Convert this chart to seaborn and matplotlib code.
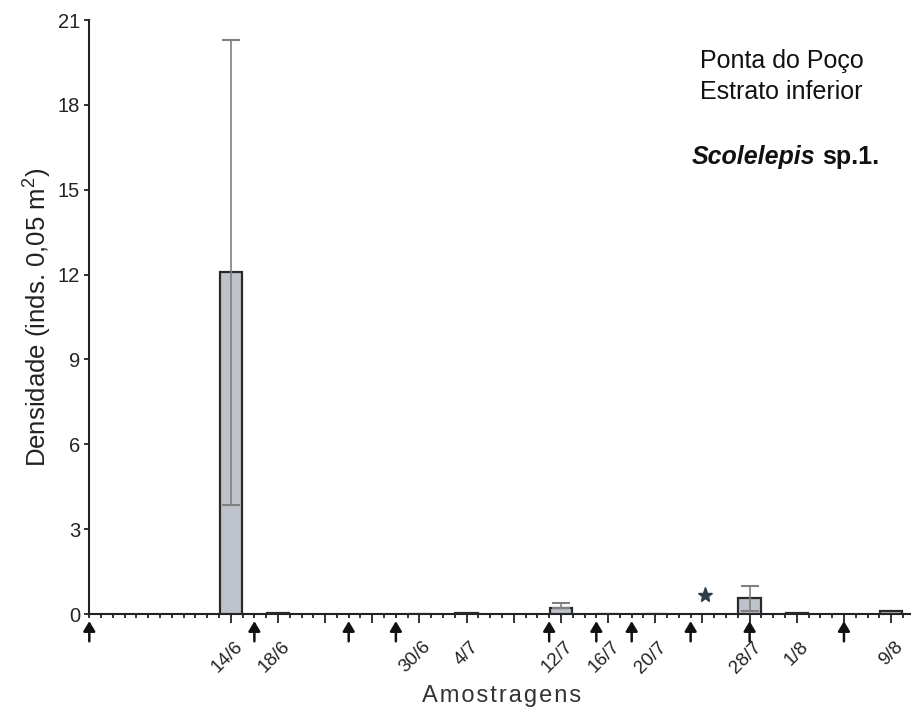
import matplotlib
matplotlib.use("Agg")
import matplotlib.pyplot as plt
import matplotlib.transforms as mtransforms
from matplotlib.ticker import FixedLocator, FixedFormatter
import seaborn as sns
import pandas as pd

# ---- data (days counted from 2/6) ----
sample_labels = ['14/6', '18/6', '30/6', '4/7', '12/7', '16/7', '20/7', '28/7', '1/8', '9/8']
sample_days = [12, 16, 28, 32, 40, 44, 48, 56, 60, 68]
density = [12.08, 0.03, 0.0, 0.05, 0.22, 0.015, 0.015, 0.55, 0.04, 0.1]
err_low = [3.85, 0.03, 0.0, 0.05, 0.22, 0.015, 0.015, 0.12, 0.04, 0.1]
err_high = [20.28, 0.03, 0.0, 0.05, 0.40, 0.015, 0.015, 1.00, 0.04, 0.1]
arrow_days = [0, 14, 22, 26, 39, 43, 46, 51, 56, 64]
star_day = [52.2]
star_val = [0.67]
major_days = list(range(12, 69, 4))
y_ticks = [0, 3, 6, 9, 12, 15, 18, 21]

df = pd.DataFrame({"day": sample_days, "dens": density})

sns.set_theme(style="white")
plt.rcParams['font.family'] = ['Liberation Sans', 'DejaVu Sans']
plt.rcParams['mathtext.fontset'] = 'custom'
plt.rcParams['mathtext.rm'] = 'Liberation Sans'

fig = plt.figure(figsize=(9.14, 7.12), dpi=100)
ax = fig.add_axes([0.0977, 0.1376, 0.8979, 0.8343])

sns.barplot(data=df, x="day", y="dens", native_scale=True, width=0.475,
            color="#bec2cb", saturation=1, edgecolor="#2a2a2a", linewidth=1.6,
            errorbar=None, ax=ax, zorder=3)

# error bars
lo = [d - l for d, l in zip(density, err_low)]
hi = [h - d for d, h in zip(density, err_high)]
show = [i for i in range(len(sample_days)) if err_high[i] - err_low[i] > 0.05]
eb = ax.errorbar([sample_days[i] for i in show], [density[i] for i in show],
                 yerr=[[lo[i] for i in show], [hi[i] for i in show]],
                 fmt='none', ecolor='#808080', elinewidth=1.2, capsize=6.5,
                 capthick=1.5, zorder=4)
for c in eb[1]:
    c.set_color('#2a2a2a')

# star marker
ax.plot(star_day, star_val, marker='*', color='#2e3d48', markersize=11,
        linestyle='none', zorder=5, clip_on=False)

# arrows under axis
trans = mtransforms.blended_transform_factory(ax.transData, ax.transAxes)
for d in arrow_days:
    ax.annotate('', xy=(d, -0.012), xytext=(d, -0.046), xycoords=trans,
                textcoords=trans, annotation_clip=False,
                arrowprops=dict(arrowstyle='-|>,head_length=0.45,head_width=0.27',
                                color='#111111', lw=1.8, shrinkA=0, shrinkB=0,
                                mutation_scale=13))

ax.set_xlim(0, 69.6)
ax.set_ylim(0, 21)

# x ticks
lab_map = dict(zip(sample_days, sample_labels))
ax.xaxis.set_major_locator(FixedLocator(major_days))
ax.xaxis.set_major_formatter(FixedFormatter([lab_map.get(d, '') for d in major_days]))
ax.xaxis.set_minor_locator(FixedLocator([d for d in range(0, 70) if d not in major_days]))
ax.tick_params(axis='x', which='major', direction='out', length=6.5, width=1.3,
               color='#222222', bottom=True, labelsize=13.5, pad=11,
               labelcolor='#222222', labelrotation=45)
ax.tick_params(axis='x', which='minor', direction='out', length=3.2, width=1.3,
               color='#222222', bottom=True)
offset = mtransforms.ScaledTranslation(15 / 100, 0, fig.dpi_scale_trans)
for t in ax.get_xticklabels():
    t.set_ha('right')
    t.set_va('top')
    t.set_transform(t.get_transform() + offset)

ax.set_yticks(y_ticks)
ax.set_yticklabels([str(v) for v in y_ticks])
ax.tick_params(axis='y', direction='out', length=3.6, width=1.3, color='#222222',
               left=True, labelsize=14.5, pad=3, labelcolor='#222222')

for s in ['top', 'right']:
    ax.spines[s].set_visible(False)
for s in ['left', 'bottom']:
    ax.spines[s].set_color('#222222')
    ax.spines[s].set_linewidth(1.5)

ax.set_xlabel('')
ax.set_ylabel('Densidade (inds. 0,05 m$^{2}$)', fontsize=18.5,
              color='#222222', va='center')
ax.yaxis.set_label_coords(-0.064, 0.5)

fig.text(501.7 / 914, 1 - 696 / 712, 'A m o s t r a g e n s'.replace(' ', '\u200a'),
         ha='center', va='center', fontsize=17, color='#333333')

fig.text(781.7 / 914, 1 - 61 / 712, 'Ponta do Poço',
         ha='center', va='center', fontsize=18, color='#111111')
fig.text(781.7 / 914, 1 - 92 / 712, 'Estrato inferior',
         ha='center', va='center', fontsize=18, color='#111111')
fig.text(815 / 914, 1 - 157 / 712, 'Scolelepis', ha='right', va='center',
         fontsize=18, fontweight='bold', fontstyle='italic', color='#111111')
fig.text(822 / 914, 1 - 157 / 712, 'sp.1.', ha='left', va='center',
         fontsize=18, fontweight='bold', color='#111111')

ax.grid(False)
fig.savefig('out.png', dpi=100)
